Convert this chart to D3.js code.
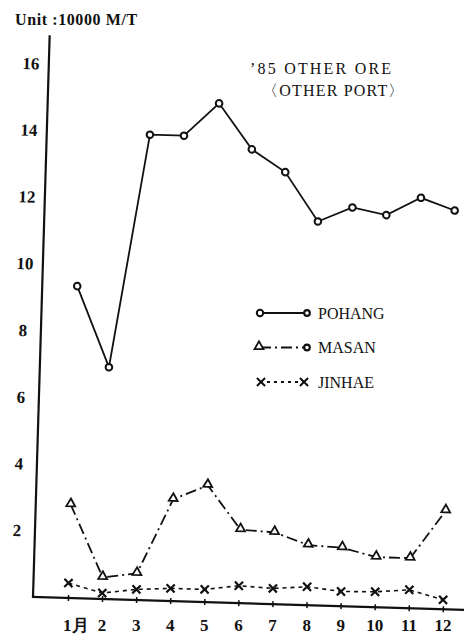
<!DOCTYPE html>
<html>
<head>
<meta charset="utf-8">
<script src="https://cdn.jsdelivr.net/npm/d3@7"></script>
<style>
  body { margin: 0; background: #fff; }
  text { font-family: "Liberation Serif", "DejaVu Serif", serif; fill: #111; }
</style>
</head>
<body>
<svg id="mainSvg"></svg>
<script>
const months = [1, 2, 3, 4, 5, 6, 7, 8, 9, 10, 11, 12];
const monthLabels = ['1月', '2', '3', '4', '5', '6', '7', '8', '9', '10', '11', '12'];
const yTicks = [2, 4, 6, 8, 10, 12, 14, 16];
const pohang = [9.35, 6.95, 13.95, 13.95, 14.95, 13.6, 12.95, 11.5, 11.95, 11.75, 12.3, 11.95];
const masan = [2.8, 0.65, 0.8, 3.05, 3.5, 2.2, 2.15, 1.8, 1.75, 1.5, 1.5, 2.95];
const jinhae = [0.45, 0.18, 0.32, 0.38, 0.38, 0.52, 0.47, 0.55, 0.44, 0.46, 0.55, 0.28];
const seriesNames = ['POHANG', 'MASAN', 'JINHAE'];

const width = 464;
const height = 636;
const originX = 33;
const originY = 597;
const tilt = 1.7; // the scan is slightly rotated

const svg = d3.select('#mainSvg')
  .attr('width', width)
  .attr('height', height);

const xScale = d3.scaleLinear()
  .domain([1, 12])
  .range([35, 410]);

const yScale = d3.scaleLinear()
  .domain([0, 16])
  .range([0, -534]);

const plot = svg.append('g')
  .attr('transform', `translate(${originX},${originY}) rotate(${tilt})`);

// axes lines
plot.append('line')
  .attr('x1', 0).attr('y1', 1)
  .attr('x2', 0).attr('y2', -562)
  .attr('stroke', '#111')
  .attr('stroke-width', 2.2);

plot.append('line')
  .attr('x1', -1).attr('y1', 0)
  .attr('x2', 445).attr('y2', 0)
  .attr('stroke', '#111')
  .attr('stroke-width', 2.2);

// x ticks (small crosses on the axis)
const xAxis = d3.axisBottom(xScale)
  .tickValues(months)
  .tickSize(3)
  .tickFormat('');

plot.append('g')
  .call(xAxis)
  .call(g => g.select('.domain').remove())
  .call(g => g.selectAll('.tick line')
    .attr('y1', -3)
    .attr('stroke', '#111')
    .attr('stroke-width', 1.5));

// y tick labels
const yAxis = d3.axisLeft(yScale)
  .tickValues(yTicks)
  .tickSize(0)
  .tickPadding(0);

plot.append('g')
  .call(yAxis)
  .call(g => g.select('.domain').remove())
  .call(g => g.selectAll('.tick text')
    .attr('x', -18)
    .attr('dy', '0.35em')
    .style('text-anchor', 'middle')
    .style('font-size', '17px')
    .style('font-weight', 'bold')
    .style('font-family', '"Liberation Serif", serif'));

// month labels (horizontal in the scan)
svg.append('g')
  .selectAll('text')
  .data(months)
  .enter()
  .append('text')
  .attr('x', d => originX + xScale(d) + (d === 1 ? -5 : 0))
  .attr('y', 631)
  .style('text-anchor', d => d === 1 ? 'start' : 'middle')
  .style('font-size', '17px')
  .style('font-weight', 'bold')
  .text((d, i) => monthLabels[i]);

// lines
const line = d3.line()
  .x((d, i) => xScale(months[i]))
  .y(d => yScale(d));

plot.append('path')
  .datum(pohang)
  .attr('d', line)
  .attr('fill', 'none')
  .attr('stroke', '#111')
  .attr('stroke-width', 1.8);

plot.append('path')
  .datum(masan)
  .attr('d', line)
  .attr('fill', 'none')
  .attr('stroke', '#111')
  .attr('stroke-width', 1.8)
  .attr('stroke-dasharray', '11,4,2,4');

plot.append('path')
  .datum(jinhae)
  .attr('d', line)
  .attr('fill', 'none')
  .attr('stroke', '#111')
  .attr('stroke-width', 1.6)
  .attr('stroke-dasharray', '4,4');

// markers
plot.append('g')
  .selectAll('circle')
  .data(pohang)
  .enter()
  .append('circle')
  .attr('cx', (d, i) => xScale(months[i]))
  .attr('cy', d => yScale(d))
  .attr('r', 3.3)
  .attr('fill', '#fff')
  .attr('stroke', '#111')
  .attr('stroke-width', 2);

const triangle = d3.symbol().type(d3.symbolTriangle).size(34);
plot.append('g')
  .selectAll('path')
  .data(masan)
  .enter()
  .append('path')
  .attr('d', triangle)
  .attr('transform', (d, i) => `translate(${xScale(months[i])},${yScale(d) - 1})`)
  .attr('fill', '#fff')
  .attr('stroke', '#111')
  .attr('stroke-width', 1.8);

const cross = d3.symbol().type(d3.symbolX).size(45);
plot.append('g')
  .selectAll('path')
  .data(jinhae)
  .enter()
  .append('path')
  .attr('d', cross)
  .attr('transform', (d, i) => `translate(${xScale(months[i])},${yScale(d)})`)
  .attr('fill', 'none')
  .attr('stroke', '#111')
  .attr('stroke-width', 2.2);

// titles
svg.append('text')
  .attr('x', 15)
  .attr('y', 25)
  .style('font-size', '16px')
  .style('font-weight', 'bold')
  .style('letter-spacing', '0.6px')
  .text('Unit :10000 M/T');

svg.append('text')
  .attr('x', 250)
  .attr('y', 74)
  .style('font-size', '16px')
  .style('letter-spacing', '2.2px')
  .text('\u201985 OTHER ORE');

svg.append('text')
  .attr('x', 262)
  .attr('y', 96)
  .style('font-size', '16px')
  .style('letter-spacing', '1.2px')
  .text('\u3008OTHER PORT\u3009');

// legend
const legend = svg.append('g')
  .attr('transform', 'translate(260,313)');

const legendRows = legend.selectAll('g')
  .data(seriesNames)
  .enter()
  .append('g')
  .attr('transform', (d, i) => `translate(0,${i * 34.5})`);

legendRows.append('line')
  .attr('x1', 0).attr('x2', 47)
  .attr('y1', 0).attr('y2', 0)
  .attr('stroke', '#111')
  .attr('stroke-width', 1.8)
  .attr('stroke-dasharray', (d, i) => ['none', '11,4,2,4', '3,4'][i]);

legendRows.each(function (d, i) {
  const row = d3.select(this);
  if (i === 0) {
    row.append('circle').attr('cx', 0).attr('r', 3.2)
      .attr('fill', '#fff').attr('stroke', '#111').attr('stroke-width', 2);
    row.append('circle').attr('cx', 47).attr('r', 2.8)
      .attr('fill', '#fff').attr('stroke', '#111').attr('stroke-width', 2.2);
  } else if (i === 1) {
    row.append('path').attr('d', triangle).attr('transform', 'translate(-1,-1)')
      .attr('fill', '#fff').attr('stroke', '#111').attr('stroke-width', 1.8);
    row.append('circle').attr('cx', 47).attr('r', 2.8)
      .attr('fill', '#fff').attr('stroke', '#111').attr('stroke-width', 2.2);
  } else {
    row.append('path').attr('d', cross).attr('transform', 'translate(1,0)')
      .attr('fill', 'none').attr('stroke', '#111').attr('stroke-width', 2);
    row.append('path').attr('d', cross).attr('transform', 'translate(44,0)')
      .attr('fill', 'none').attr('stroke', '#111').attr('stroke-width', 2);
  }
});

legendRows.append('text')
  .attr('x', 58)
  .attr('y', 0)
  .attr('dy', '0.35em')
  .style('font-size', '16px')
  .text(d => d);
</script>
</body>
</html>
